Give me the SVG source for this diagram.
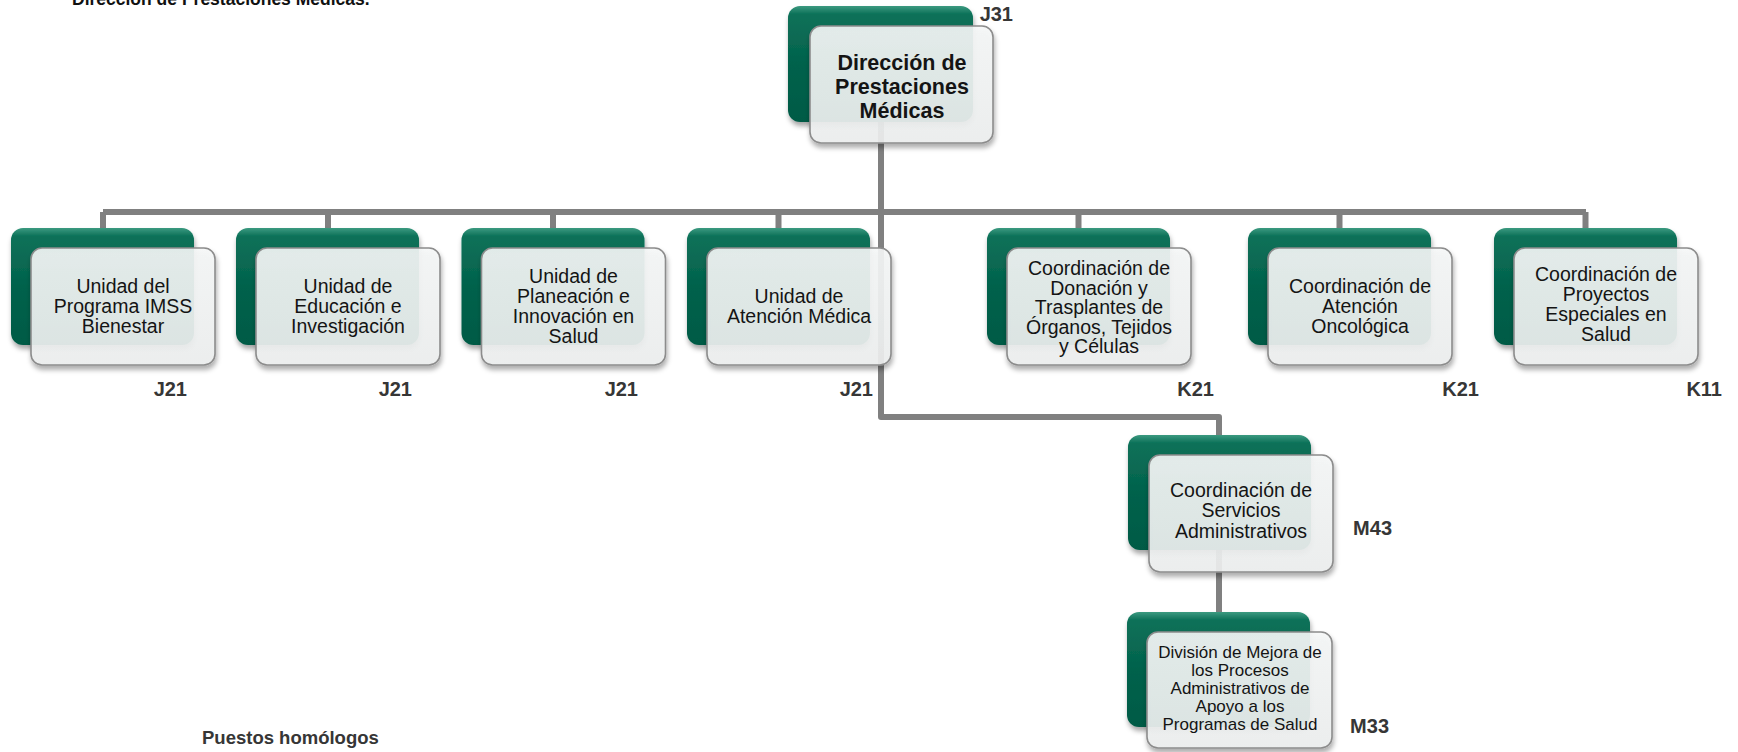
<svg xmlns="http://www.w3.org/2000/svg" width="1738" height="752" viewBox="0 0 1738 752">
<style>
.back{fill:url(#gG);filter:url(#sh)}
.front{fill:url(#gF);fill-opacity:0.9;stroke:#8c8c8c;stroke-width:1.6;filter:url(#sh)}
.conn{fill:none;stroke:#808080;stroke-width:6;stroke-linejoin:round}
.t{font-family:"Liberation Sans",Arial,sans-serif;font-size:19.5px;fill:#141414;text-anchor:middle}
.ts{font-size:17px}
.tb{font-family:"Liberation Sans",Arial,sans-serif;font-weight:bold;font-size:21.5px;fill:#141414;text-anchor:middle}
.lbl{font-family:"Liberation Sans",Arial,sans-serif;font-weight:bold;font-size:20px;fill:#363636;text-anchor:end}
.ttl{font-family:"Liberation Sans",Arial,sans-serif;font-weight:bold;font-size:17.5px;fill:#111}
.note{font-family:"Liberation Sans",Arial,sans-serif;font-weight:bold;font-size:18.5px;fill:#363636}
</style>
<defs>
<linearGradient id="gG" x1="0" y1="0" x2="0" y2="1">
<stop offset="0" stop-color="#3c9a80"/>
<stop offset="0.07" stop-color="#0d7159"/>
<stop offset="0.5" stop-color="#03624c"/>
<stop offset="1" stop-color="#005a45"/>
</linearGradient>
<linearGradient id="gF" x1="0" y1="0" x2="0" y2="1">
<stop offset="0" stop-color="#f6f8f8"/>
<stop offset="1" stop-color="#eef0f0"/>
</linearGradient>
<filter id="sh" x="-10%" y="-10%" width="125%" height="130%">
<feDropShadow dx="1" dy="4" stdDeviation="2.5" flood-color="#000" flood-opacity="0.35"/>
</filter>
</defs>
<rect width="1738" height="752" fill="#fff"/>
<text class="ttl" x="72" y="5">Dirección de Prestaciones Médicas.</text>
<text class="note" x="202" y="744">Puestos homólogos</text>

<g id="connectors">
<path class="conn" d="M103,212 H1586"/>
<path class="conn" d="M881,122 V417 H1219 V436"/>
<path class="conn" d="M103,212 V229 M328,212 V229 M553,212 V229 M778.5,212 V229 M1078.5,212 V229 M1339.5,212 V229 M1585.5,212 V229"/>
<path class="conn" d="M1219,550 V613"/>
</g>

<g id="n-dir">
<rect class="back" x="788" y="6" width="185" height="116" rx="12"/>
<rect class="front" x="810" y="26" width="183" height="117" rx="11"/>
<text class="tb"><tspan x="902" y="70">Dirección de</tspan><tspan x="902" y="94">Prestaciones</tspan><tspan x="902" y="118">Médicas</tspan></text>
<text class="lbl" x="1013" y="21">J31</text>
</g>

<g id="n-bienestar">
<rect class="back" x="11" y="228" width="183" height="117" rx="12"/>
<rect class="front" x="31" y="248" width="184" height="117" rx="11"/>
<text class="t"><tspan x="123" y="293">Unidad del</tspan><tspan x="123" y="313">Programa IMSS</tspan><tspan x="123" y="333">Bienestar</tspan></text>
<text class="lbl" x="187" y="396">J21</text>
</g>

<g id="n-educacion">
<rect class="back" x="236" y="228" width="183" height="117" rx="12"/>
<rect class="front" x="256" y="248" width="184" height="117" rx="11"/>
<text class="t"><tspan x="348" y="293">Unidad de</tspan><tspan x="348" y="313">Educación e</tspan><tspan x="348" y="333">Investigación</tspan></text>
<text class="lbl" x="412" y="396">J21</text>
</g>

<g id="n-planeacion">
<rect class="back" x="461.5" y="228" width="183" height="117" rx="12"/>
<rect class="front" x="481.5" y="248" width="184" height="117" rx="11"/>
<text class="t"><tspan x="573.5" y="283">Unidad de</tspan><tspan x="573.5" y="303">Planeación e</tspan><tspan x="573.5" y="323">Innovación en</tspan><tspan x="573.5" y="343">Salud</tspan></text>
<text class="lbl" x="638" y="396">J21</text>
</g>

<g id="n-atencion">
<rect class="back" x="687" y="228" width="183" height="117" rx="12"/>
<rect class="front" x="707" y="248" width="184" height="117" rx="11"/>
<text class="t"><tspan x="799" y="303">Unidad de</tspan><tspan x="799" y="323">Atención Médica</tspan></text>
<text class="lbl" x="873" y="396">J21</text>
</g>

<g id="n-donacion">
<rect class="back" x="987" y="228" width="183" height="117" rx="12"/>
<rect class="front" x="1007" y="248" width="184" height="117" rx="11"/>
<text class="t"><tspan x="1099" y="275">Coordinación de</tspan><tspan x="1099" y="294.5">Donación y</tspan><tspan x="1099" y="314">Trasplantes de</tspan><tspan x="1099" y="333.5">Órganos, Tejidos</tspan><tspan x="1099" y="353">y Células</tspan></text>
<text class="lbl" x="1214" y="396">K21</text>
</g>

<g id="n-oncologica">
<rect class="back" x="1248" y="228" width="183" height="117" rx="12"/>
<rect class="front" x="1268" y="248" width="184" height="117" rx="11"/>
<text class="t"><tspan x="1360" y="293">Coordinación de</tspan><tspan x="1360" y="313">Atención</tspan><tspan x="1360" y="333">Oncológica</tspan></text>
<text class="lbl" x="1479" y="396">K21</text>
</g>

<g id="n-proyectos">
<rect class="back" x="1494" y="228" width="183" height="117" rx="12"/>
<rect class="front" x="1514" y="248" width="184" height="117" rx="11"/>
<text class="t"><tspan x="1606" y="281">Coordinación de</tspan><tspan x="1606" y="301">Proyectos</tspan><tspan x="1606" y="321">Especiales en</tspan><tspan x="1606" y="341">Salud</tspan></text>
<text class="lbl" x="1722" y="396">K11</text>
</g>

<g id="n-servicios">
<rect class="back" x="1128" y="435" width="183" height="115" rx="12"/>
<rect class="front" x="1149" y="455" width="184" height="117" rx="11"/>
<text class="t"><tspan x="1241" y="497">Coordinación de</tspan><tspan x="1241" y="517">Servicios</tspan><tspan x="1241" y="538">Administrativos</tspan></text>
<text class="lbl" x="1392" y="535">M43</text>
</g>

<g id="n-division">
<rect class="back" x="1127" y="612" width="183" height="115" rx="12"/>
<rect class="front" x="1147" y="632" width="185" height="116" rx="11"/>
<text class="t ts"><tspan x="1240" y="658">División de Mejora de</tspan><tspan x="1240" y="676">los Procesos</tspan><tspan x="1240" y="694">Administrativos de</tspan><tspan x="1240" y="712">Apoyo a los</tspan><tspan x="1240" y="730">Programas de Salud</tspan></text>
<text class="lbl" x="1389" y="733">M33</text>
</g>
</svg>
